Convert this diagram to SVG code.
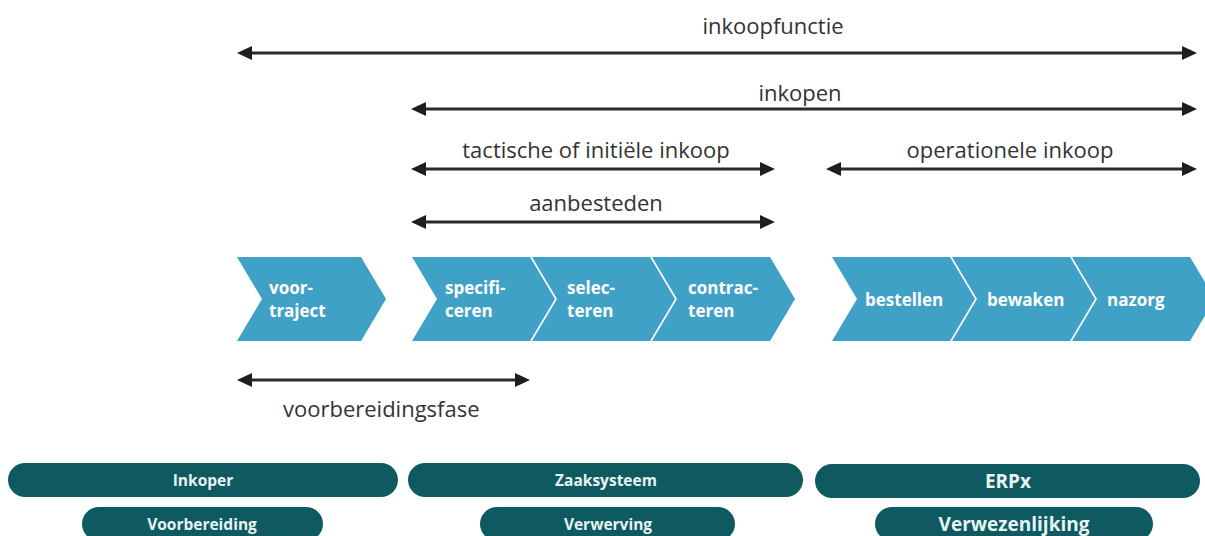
<svg xmlns="http://www.w3.org/2000/svg" width="1205" height="536" viewBox="0 0 1205 536">
<style>
.lbl{font-family:"Open Sans","Liberation Sans",sans-serif;font-size:22px;fill:#333;}
.chev{fill:#40a1c6;}
.ct{font-family:"Open Sans","Liberation Sans",sans-serif;font-size:17px;font-weight:700;fill:#fff;}
.pill{fill:#0e5a60;}
.pt{font-family:"Open Sans","Liberation Sans",sans-serif;font-size:15.5px;font-weight:700;fill:#e8f3f3;text-anchor:middle;}
.pt2{font-family:"Open Sans","Liberation Sans",sans-serif;font-size:19px;font-weight:700;fill:#e8f3f3;text-anchor:middle;}
.arr{stroke:#2b2b2b;stroke-width:3;fill:none;marker-start:url(#ah);marker-end:url(#ah);}
</style>
<defs>
<marker id="ah" viewBox="0 0 15 14" refX="8" refY="7" markerWidth="15" markerHeight="14" orient="auto-start-reverse" markerUnits="userSpaceOnUse">
<path d="M0,0 L15,7 L0,14 z" fill="#1e1e1e"/>
</marker>
</defs>
<rect width="1205" height="536" fill="#fff"/>

<g id="connectors">
<line class="arr" x1="244" y1="53" x2="1190" y2="53"/>
<line class="arr" x1="418" y1="109" x2="1190" y2="109"/>
<line class="arr" x1="418" y1="169" x2="768" y2="169"/>
<line class="arr" x1="833" y1="169" x2="1190" y2="169"/>
<line class="arr" x1="418" y1="222" x2="768" y2="222"/>
<line class="arr" x1="244" y1="380" x2="523" y2="380"/>
</g>

<g id="labels">
<text class="lbl" x="773" y="34" text-anchor="middle">inkoopfunctie</text>
<text class="lbl" x="800" y="101" text-anchor="middle">inkopen</text>
<text class="lbl" x="596" y="158" text-anchor="middle">tactische of initiële inkoop</text>
<text class="lbl" x="1010" y="158" text-anchor="middle">operationele inkoop</text>
<text class="lbl" x="596" y="211" text-anchor="middle">aanbesteden</text>
<text class="lbl" x="283" y="417">voorbereidingsfase</text>
</g>

<g id="voortraject">
<polygon class="chev" points="237,257 361,257 386,299 361,341 237,341 262,299"/>
<text class="ct" x="269" y="294">voor-</text>
<text class="ct" x="269" y="317">traject</text>
</g>
<g id="specificeren">
<polygon class="chev" points="412,257 530,257 555,299 530,341 412,341 437,299"/>
<text class="ct" x="445" y="294">specifi-</text>
<text class="ct" x="445" y="317">ceren</text>
</g>
<g id="selecteren">
<polygon class="chev" points="532,257 650,257 675,299 650,341 532,341 557,299"/>
<text class="ct" x="567" y="294">selec-</text>
<text class="ct" x="567" y="317">teren</text>
</g>
<g id="contracteren">
<polygon class="chev" points="652,257 770,257 795,299 770,341 652,341 677,299"/>
<text class="ct" x="688" y="294">contrac-</text>
<text class="ct" x="688" y="317">teren</text>
</g>
<g id="bestellen">
<polygon class="chev" points="832,257 950,257 975,299 950,341 832,341 857,299"/>
<text class="ct" x="865" y="306">bestellen</text>
</g>
<g id="bewaken">
<polygon class="chev" points="952,257 1070,257 1095,299 1070,341 952,341 977,299"/>
<text class="ct" x="987" y="306">bewaken</text>
</g>
<g id="nazorg">
<polygon class="chev" points="1072,257 1190,257 1215,299 1190,341 1072,341 1097,299"/>
<text class="ct" x="1107" y="306">nazorg</text>
</g>

<g id="inkoper">
<rect class="pill" x="8" y="463" width="390" height="34" rx="17"/>
<text class="pt" x="203" y="486">Inkoper</text>
</g>
<g id="voorbereiding">
<rect class="pill" x="82" y="507" width="241" height="34" rx="17"/>
<text class="pt" x="202" y="530">Voorbereiding</text>
</g>
<g id="zaaksysteem">
<rect class="pill" x="408" y="463" width="395" height="34" rx="17"/>
<text class="pt" x="606" y="486">Zaaksysteem</text>
</g>
<g id="verwerving">
<rect class="pill" x="480" y="507" width="255" height="34" rx="17"/>
<text class="pt" x="608" y="530">Verwerving</text>
</g>
<g id="erpx">
<rect class="pill" x="815" y="464" width="385" height="34" rx="17"/>
<text class="pt2" x="1008" y="488">ERPx</text>
</g>
<g id="verwezenlijking">
<rect class="pill" x="875" y="507" width="278" height="34" rx="17"/>
<text class="pt2" x="1014" y="531">Verwezenlijking</text>
</g>
</svg>
